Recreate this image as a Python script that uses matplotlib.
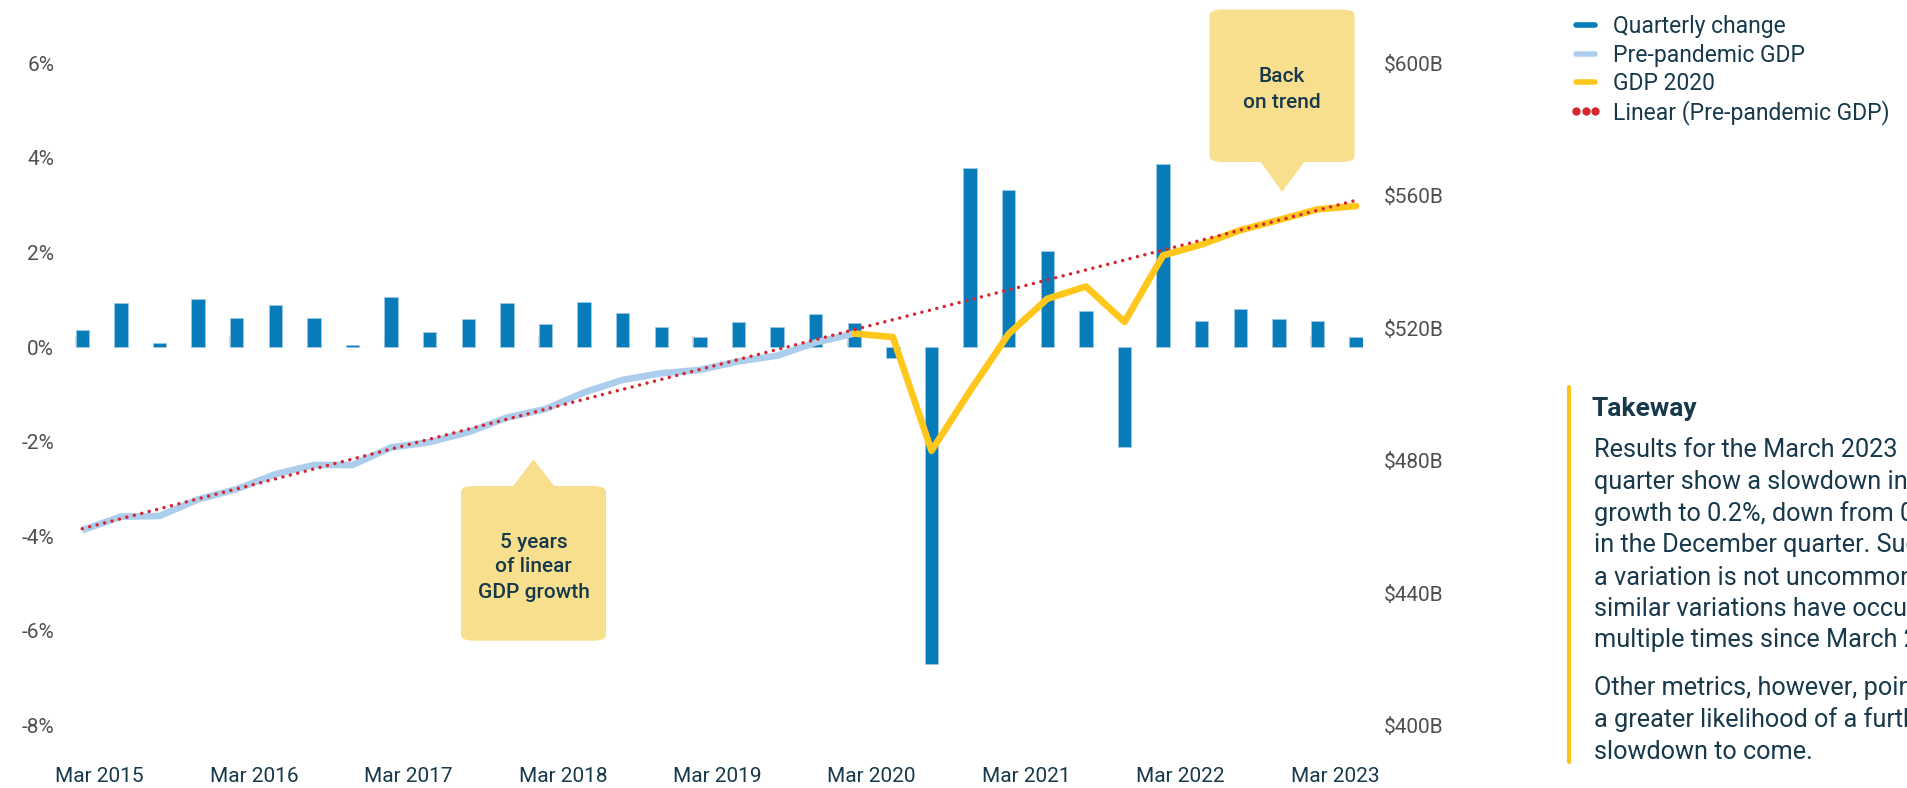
import matplotlib
matplotlib.use("Agg")
import matplotlib.pyplot as plt
import numpy as np
from matplotlib.patches import FancyBboxPatch, Polygon
from matplotlib.lines import Line2D

# ---------------- data ----------------
quarters = ["Dec 2014",
            "Mar 2015", "Jun 2015", "Sep 2015", "Dec 2015",
            "Mar 2016", "Jun 2016", "Sep 2016", "Dec 2016",
            "Mar 2017", "Jun 2017", "Sep 2017", "Dec 2017",
            "Mar 2018", "Jun 2018", "Sep 2018", "Dec 2018",
            "Mar 2019", "Jun 2019", "Sep 2019", "Dec 2019",
            "Mar 2020", "Jun 2020", "Sep 2020", "Dec 2020",
            "Mar 2021", "Jun 2021", "Sep 2021", "Dec 2021",
            "Mar 2022", "Jun 2022", "Sep 2022", "Dec 2022",
            "Mar 2023"]

quarterly_change = [0.36, 0.93, 0.08, 1.01, 0.62, 0.90, 0.62, 0.05, 1.07,
                    0.31, 0.59, 0.93, 0.48, 0.96, 0.73, 0.42, 0.22, 0.53,
                    0.42, 0.70, 0.50, -0.23, -6.70, 3.78, 3.33, 2.03, 0.76,
                    -2.12, 3.87, 0.56, 0.81, 0.59, 0.56, 0.22]

# Pre-pandemic GDP ($B), Dec 2014 .. Dec 2019
pre_pandemic_gdp = [459.0, 463.1, 463.3, 468.3, 471.4, 475.9, 478.7, 478.7,
                    484.0, 485.6, 488.6, 493.0, 495.6, 500.6, 504.4, 506.4,
                    507.4, 510.0, 511.7, 515.7, 518.4]

# GDP 2020 ($B), Dec 2019 .. Mar 2023
gdp_2020_start = "Dec 2019"
gdp_2020 = [518.4, 517.3, 483.0, 501.1, 518.3, 528.9, 532.6, 521.9,
            542.0, 545.3, 549.6, 552.7, 555.9, 556.9]

pct_ticks = [-8, -6, -4, -2, 0, 2, 4, 6]
pct_labels = ["-8%", "-6%", "-4%", "-2%", "0%", "2%", "4%", "6%"]
gdp_ticks = [400, 440, 480, 520, 560, 600]
gdp_labels = ["$400B", "$440B", "$480B", "$520B", "$560B", "$600B"]
year_labels = ["Mar 2015", "Mar 2016", "Mar 2017", "Mar 2018", "Mar 2019",
               "Mar 2020", "Mar 2021", "Mar 2022", "Mar 2023"]

series_names = ["Quarterly change", "Pre-pandemic GDP", "GDP 2020",
                "Linear (Pre-pandemic GDP)"]

takeaway_title = "Takeway"
takeaway_para1 = ["Results for the March 2023",
                  "quarter show a slowdown in",
                  "growth to 0.2%, down from 0.5%",
                  "in the December quarter. Such",
                  "a variation is not uncommon;",
                  "similar variations have occurred",
                  "multiple times since March 2021."]
takeaway_para2 = ["Other metrics, however, point to",
                  "a greater likelihood of a further",
                  "slowdown to come."]

# ---------------- style ----------------
W, H = 1908, 788
FONT = ["Roboto", "DejaVu Sans"]
plt.rcParams["font.family"] = FONT

BAR_C = "#087CB8"
PRE_C = "#ADCDED"
GDP_C = "#FFC61C"
TREND_C = "#D7262F"
BOX_C = "#F7DF8E"
NAVY = "#17394B"
GREY = "#4F4F4F"
AXIS_C = "#D9D9D9"


def fx(px):
    return px / W


def fy(py):
    return 1 - py / H


fig = plt.figure(figsize=(W / 100, H / 100), dpi=100)
fig.patch.set_facecolor("white")

ax_left_px, ax_right_px = 75.7, 1362.7
ax_top_px, ax_bot_px = 63.3, 725.6
ax = fig.add_axes([fx(ax_left_px), fy(ax_bot_px),
                   fx(ax_right_px - ax_left_px), (ax_bot_px - ax_top_px) / H])

x = np.arange(len(quarters))
ax.bar(x, quarterly_change, width=0.345, color=BAR_C, edgecolor="#9CC9E6",
       linewidth=0.6, zorder=2)
ax.set_xlim(-0.17, len(quarters) - 0.83)
ax.set_ylim(pct_ticks[0], pct_ticks[-1])
for s in ax.spines.values():
    s.set_visible(False)

# x labels (positioned between Dec and Mar quarters like the source)
mar_idx = [quarters.index(lbl) for lbl in year_labels]
ax.set_xticks([i - 0.55 for i in mar_idx], year_labels)
ax.tick_params(axis="x", length=0, pad=30, labelsize=15, labelcolor=NAVY)
ax.set_yticks(pct_ticks, pct_labels)
ax.tick_params(axis="y", length=0, pad=15.5, labelsize=15, labelcolor=GREY)

# zero line with tick marks
zero_frac = (0 - pct_ticks[0]) / (pct_ticks[-1] - pct_ticks[0])
sec = ax.secondary_xaxis(zero_frac)
sec.set_xticks([i - 1.17 for i in mar_idx], [""] * len(mar_idx))
sec.tick_params(axis="x", length=8, width=1.6, color=AXIS_C, direction="out")
for name, s in sec.spines.items():
    if name == "bottom":
        s.set_color(AXIS_C)
        s.set_linewidth(2)
    else:
        s.set_visible(False)

# right axis for GDP lines
ax2 = ax.twinx()
ax2.set_ylim(gdp_ticks[0], gdp_ticks[-1])
for s in ax2.spines.values():
    s.set_visible(False)
ax2.set_yticks(gdp_ticks, gdp_labels)
ax2.tick_params(axis="y", length=0, pad=15.5, labelsize=15, labelcolor=GREY)

x_pre = x[:len(pre_pandemic_gdp)]
start = quarters.index(gdp_2020_start)
x_gdp = x[start:start + len(gdp_2020)]

ax2.plot(x_pre, pre_pandemic_gdp, color=PRE_C, lw=4.8,
         solid_joinstyle="round", solid_capstyle="butt", zorder=3)
ax2.plot(x_gdp, gdp_2020, color=GDP_C, lw=4.8,
         solid_joinstyle="round", solid_capstyle="round", zorder=4)
coef = np.polyfit(x_pre, pre_pandemic_gdp, 1)
ax2.plot(x, np.polyval(coef, x), color=TREND_C, lw=2.5,
         linestyle=(0, (0.01, 2.2)), dash_capstyle="round", zorder=5)


# ---------------- callouts ----------------
def callout(x0, y0, x1, y1, base, tip, lines, line_y):
    box = FancyBboxPatch((fx(x0), fy(y1)), fx(x1 - x0), (y1 - y0) / H,
                         boxstyle="round,pad=0,rounding_size=0.007",
                         transform=fig.transFigure, facecolor=BOX_C,
                         edgecolor="none", zorder=10)
    fig.add_artist(box)
    tri = Polygon([(fx(base[0]), fy(base[2])), (fx(base[1]), fy(base[2])),
                   (fx(tip[0]), fy(tip[1]))], closed=True,
                  transform=fig.transFigure, facecolor=BOX_C,
                  edgecolor="none", zorder=10)
    fig.add_artist(tri)
    cx = (x0 + x1) / 2
    for t, yy in zip(lines, line_y):
        fig.text(fx(cx), fy(yy), t, ha="center", va="center", fontsize=15,
                 fontweight="medium", color=NAVY, zorder=11)


callout(1209.6, 9.5, 1354.5, 162, (1260, 1305, 161), (1282, 192),
        ["Back", "on trend"], [77, 103])
callout(461, 486, 606, 640.7, (512.5, 555, 487), (533.5, 459.3),
        ["5 years", "of linear", "GDP growth"], [542, 567, 593])

# ---------------- legend ----------------
handles = [
    Line2D([], [], color=BAR_C, lw=4, solid_capstyle="round"),
    Line2D([], [], color=PRE_C, lw=4, solid_capstyle="round"),
    Line2D([], [], color=GDP_C, lw=4, solid_capstyle="round"),
    Line2D([], [], color=TREND_C, ls="none", marker="o", ms=6,
           markeredgewidth=0),
]
leg = fig.legend(handles, series_names, loc="upper left",
                 bbox_to_anchor=(fx(1569), fy(15.5)), frameon=False,
                 fontsize=16.5, labelcolor=NAVY, handlelength=1.45,
                 handletextpad=0.45, labelspacing=0.22, borderpad=0,
                 borderaxespad=0, numpoints=3)

# ---------------- takeaway ----------------
fig.add_artist(Line2D([fx(1568.7), fx(1568.7)], [fy(387), fy(762)],
                      transform=fig.transFigure, color="#FDC319", lw=3,
                      solid_capstyle="round"))
fig.text(fx(1592), fy(409), takeaway_title, ha="left", va="center",
         fontsize=19, fontweight="bold", color=NAVY)
for k, t in enumerate(takeaway_para1):
    fig.text(fx(1594), fy(450 + 31.7 * k), t, ha="left", va="center",
             fontsize=18.2, color=NAVY)
for k, t in enumerate(takeaway_para2):
    fig.text(fx(1594), fy(688.3 + 31.7 * k), t, ha="left", va="center",
             fontsize=18.2, color=NAVY)

fig.savefig("out.png", dpi=100, facecolor="white")
